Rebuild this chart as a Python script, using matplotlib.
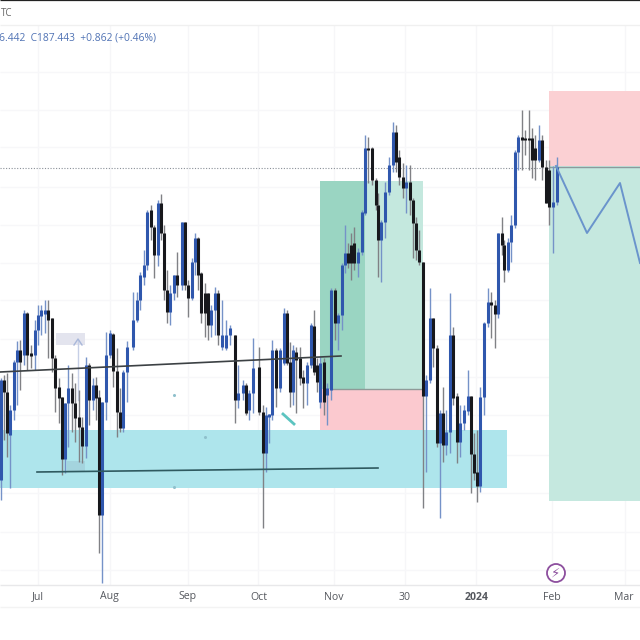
import matplotlib
matplotlib.use("Agg")
import matplotlib.pyplot as plt
from matplotlib.patches import Rectangle, Circle

# candles, y is screen position (down = lower price)
candle_x = [1, 4, 7, 10, 14, 17, 20, 24, 27, 31, 35, 37.5, 41, 45, 48, 52, 55, 59, 62, 65,
            68, 72, 75, 79, 82, 86, 89, 93, 96, 99, 102, 106, 109.5, 113, 116.5, 120, 123, 127, 133, 136.5,
            140, 144, 147, 151, 154, 158, 161, 164, 167, 170, 174, 177, 182, 185, 188, 192, 195, 198, 201, 205,
            208, 211, 215, 218, 222, 226, 230, 235, 238, 243, 246, 249, 253, 259, 263, 266, 269, 272, 276, 280,
            284, 287, 290, 293, 296, 300, 303, 307, 311, 314, 317, 320, 323.5, 327, 331, 334.5, 338, 341.5, 345, 348,
            351, 354, 358, 361.5, 365, 368, 372, 375.5, 378, 381, 385, 389, 393, 396, 399, 403, 406, 409.5, 412.5, 416,
            419, 423, 426, 430, 433, 437, 440, 443, 446, 450, 453, 457, 460, 464, 467.5, 471, 474, 477, 480, 484,
            488, 491, 494.5, 498, 501.5, 504, 507.5, 511, 515, 518, 522, 525, 528.5, 532, 535, 539, 542, 546, 549, 553,
            556.5]
body_top = [380, 380, 392, 410, 362, 350, 350, 313, 313, 353, 330, 315, 310, 310, 310, 318, 358, 387, 397, 403,
            388, 388, 403, 417, 427, 365, 365, 385, 385, 397, 402, 355, 333, 334, 371, 412, 372, 347, 320, 300,
            275, 265, 212, 210, 227, 203, 203, 233, 290, 293, 275, 275, 222, 222, 285, 262, 238, 238, 273, 293,
            293, 310, 293, 293, 335, 335, 328, 335, 393, 385, 385, 393, 368, 367, 412, 415, 414, 350, 350, 350,
            313, 313, 362, 350, 352, 358, 377, 365, 325, 326, 365, 363, 362, 388, 290, 290, 315, 265, 253, 253,
            245, 243, 252, 212, 148, 148, 148, 180, 205, 222, 192, 165, 132, 132, 157, 177, 182, 182, 200, 223,
            250, 262, 380, 318, 318, 348, 413, 413, 432, 335, 335, 396, 423, 410, 396, 396, 454, 472, 397, 323,
            302, 302, 305, 233, 233, 245, 242, 225, 152, 137, 137, 138, 138, 138, 148, 140, 140, 167, 170, 202,
            167]
body_bot = [480, 392, 433, 435, 410, 362, 362, 355, 355, 356, 355, 330, 316, 314, 320, 358, 388, 398, 459, 459,
            403, 403, 418, 427, 446, 446, 400, 400, 398, 515, 515, 402, 355, 371, 412, 428, 428, 372, 347, 320,
            300, 277, 265, 227, 255, 255, 233, 290, 312, 312, 293, 285, 285, 285, 298, 298, 262, 275, 313, 313,
            325, 325, 310, 335, 347, 348, 335, 400, 400, 393, 413, 410, 393, 412, 453, 453, 417, 415, 388, 388,
            363, 363, 392, 392, 360, 378, 383, 383, 365, 372, 382, 402, 402, 395, 390, 323, 323, 315, 265, 263,
            263, 263, 263, 252, 213, 150, 180, 205, 240, 240, 222, 192, 165, 162, 177, 188, 188, 200, 223, 250,
            262, 396, 396, 380, 348, 443, 443, 445, 445, 432, 398, 442, 442, 423, 411, 454, 473, 486, 486, 397,
            323, 305, 314, 314, 245, 270, 270, 242, 225, 152, 140, 140, 140, 160, 160, 160, 167, 203, 207, 207,
            202]
wick_top = [378, 375, 373, 405, 360, 341, 340, 310, 312, 345, 320, 305, 305, 300, 300, 318, 355, 378, 397, 403,
            365, 373, 383, 390, 417, 357, 363, 378, 377, 390, 402, 332, 330, 333, 348, 388, 370, 341, 292, 292,
            272, 250, 210, 205, 225, 200, 194, 225, 270, 285, 275, 252, 222, 222, 280, 258, 233, 237, 272, 283,
            293, 305, 287, 290, 300, 320, 325, 335, 365, 380, 383, 390, 338, 347, 405, 407, 414, 340, 348, 348,
            308, 310, 342, 345, 347, 347, 370, 362, 323, 310, 358, 357, 358, 383, 288, 288, 313, 263, 225, 243,
            233, 227, 248, 210, 135, 137, 147, 178, 193, 220, 182, 157, 122, 125, 150, 163, 165, 165, 198, 217,
            230, 262, 375, 288, 318, 345, 410, 387, 410, 293, 327, 393, 405, 405, 370, 396, 433, 430, 387, 322,
            288, 292, 300, 233, 217, 240, 238, 215, 150, 135, 110, 130, 110, 128, 135, 125, 135, 160, 160, 166,
            157]
wick_bot = [500, 440, 457, 488, 420, 405, 390, 365, 370, 368, 370, 345, 335, 333, 358, 372, 412, 423, 475, 473,
            447, 432, 442, 462, 463, 458, 425, 410, 420, 553, 583, 420, 358, 387, 437, 432, 432, 402, 350, 322,
            310, 285, 270, 240, 278, 266, 240, 300, 323, 325, 300, 297, 290, 290, 317, 300, 275, 290, 323, 337,
            340, 337, 335, 345, 350, 350, 345, 423, 408, 400, 415, 420, 413, 415, 528, 472, 443, 420, 407, 392,
            365, 365, 407, 405, 413, 385, 408, 405, 368, 375, 392, 408, 415, 425, 400, 340, 350, 330, 273, 268,
            280, 270, 277, 255, 215, 183, 185, 210, 277, 282, 238, 195, 172, 172, 185, 198, 213, 215, 258, 260,
            265, 508, 472, 383, 367, 447, 518, 462, 455, 453, 405, 463, 457, 430, 415, 493, 480, 502, 492, 415,
            327, 338, 348, 318, 255, 282, 272, 262, 228, 170, 170, 155, 170, 178, 180, 162, 180, 203, 225, 253,
            205]
candle_kind = ("bkkbbbkbkkbbbbkkkkkb"
               "bkkkkbkbkkbbbkkkbbbb"
               "bbbkkbkkkbbkbkkbbkkk"
               "kbbkbbbkbbkbbkkbbbkb"
               "bkkbkkkbbkkbkbbkbbbk"
               "kkbbbkkkkbbbbkkkbkkk"
               "kkbbkkbkbbkkbbbkkkbb"
               "bkkbkkbbbbkkkkkbkkkb"
               "b")

tick_x = [38, 109, 188, 259, 334, 405, 477, 552, 624]
tick_labels = ["Jul", "Aug", "Sep", "Oct", "Nov", "30", "2024", "Feb", "Mar"]
grid_x = [38, 110, 188, 258, 334, 405, 476, 552, 625]
grid_y = [72, 110, 147, 187, 225, 263, 300, 339, 377, 415, 455, 493, 532, 570]

BLUE = "#2f57ad"
BLACK = "#17181c"
BLUE_WICK = "#7592c8"
GRAY_WICK = "#808185"

plt.rcParams["font.family"] = ["Open Sans", "DejaVu Sans"]

fig = plt.figure(figsize=(6.4, 6.4), dpi=100)
ax = fig.add_axes([0, 0, 1, 1])
ax.set_xlim(0, 640)
ax.set_ylim(640, 0)
ax.axis("off")

ax.vlines(grid_x, 25, 585, color="#f6f6f8", lw=1, zorder=0)
ax.hlines(grid_y, 0, 640, color="#f7f7f9", lw=1, zorder=0)
ax.hlines(25, 0, 640, color="#f0f0f0", lw=1, zorder=0)
ax.hlines(585, 0, 640, color="#e8e8ea", lw=1, zorder=0)
ax.hlines(607, 0, 640, color="#f3f3f3", lw=1, zorder=0)
ax.hlines(0.4, 0, 640, color="#222222", lw=0.9, zorder=0)

# long/short position boxes and the zone
ax.add_patch(Rectangle((320, 181), 103, 208, color="#c4e8de", lw=0, zorder=1))
ax.add_patch(Rectangle((320, 181), 45, 208, color="#9ad5c2", lw=0, zorder=1))
ax.add_patch(Rectangle((320, 389), 103, 41, color="#fbc9cf", lw=0, zorder=1))
ax.add_patch(Rectangle((0, 430), 507, 58, color="#aee5ec", lw=0, zorder=1))
ax.add_patch(Rectangle((549, 91), 91, 75, color="#fbd0d3", lw=0, zorder=1))
ax.add_patch(Rectangle((549, 166), 91, 335, color="#c5e8df", lw=0, zorder=1))
ax.add_patch(Rectangle((56, 333), 29, 12, color="#e3e4ee", lw=0, zorder=1))
ax.add_patch(Rectangle((67, 461), 18, 11, color="#a4d4de", lw=0, zorder=1))
ax.plot([78, 78], [340, 400], color="#c6cfe6", lw=1, zorder=1)
ax.plot([74, 78, 82], [345, 339, 345], color="#a9b8da", lw=1, zorder=1)

ax.hlines(389, 332, 423, color="#8f9a98", lw=1, zorder=2)
ax.hlines(166.5, 549, 640, color="#8c9a9c", lw=1, zorder=2)
ax.plot([0, 549], [168, 168], color="#8a9098", lw=0.8, ls=(0, (1, 1.5)), zorder=2)

for x, top, bot, hi, lo, kind in zip(candle_x, body_top, body_bot, wick_top, wick_bot, candle_kind):
    wick = BLUE_WICK if kind == "b" else GRAY_WICK
    body = BLUE if kind == "b" else BLACK
    ax.plot([x, x], [hi, lo], color=wick, lw=1, zorder=3, solid_capstyle="butt")
    ax.plot([x, x], [top, bot], color=body, lw=2.2, zorder=4, solid_capstyle="butt")

ax.plot([0, 341], [372, 356], color="#3c4144", lw=1.2, zorder=5)
ax.plot([37, 378], [472, 468], color="#2f5a60", lw=1.2, zorder=5)
ax.plot([556, 587, 620, 640], [166, 233, 183, 263], color="#6a94cc", lw=1.4, zorder=5)
ax.plot([283, 294], [414, 424], color="#5cc4c0", lw=2, zorder=5)
ax.plot([174, 205, 174], [395, 437, 487], ls="none", marker="o", ms=1.2, color="#8fc0cc", zorder=5)

ax.text(0.5, 13, "TC", fontsize=7, color="#666666", ha="left", va="center")
ax.text(-1, 38, "6.442  C187.443  +0.862 (+0.46%)", fontsize=7.4, color="#4f72b4", ha="left", va="center")

for x, label in zip(tick_x, tick_labels):
    ax.text(x, 597, label, fontsize=7.6, color="#55585e", ha="center", va="center",
            fontweight="bold" if label == "2024" else "normal")

ax.add_patch(Circle((556, 573), 9, fc="white", ec="#8d4f9e", lw=1.3, zorder=6))
ax.text(556, 573, "\u26a1", fontsize=9.5, color="#8d4f9e", ha="center", va="center", zorder=7,
        family=["DejaVu Sans"])

fig.savefig("out.png", dpi=100)
